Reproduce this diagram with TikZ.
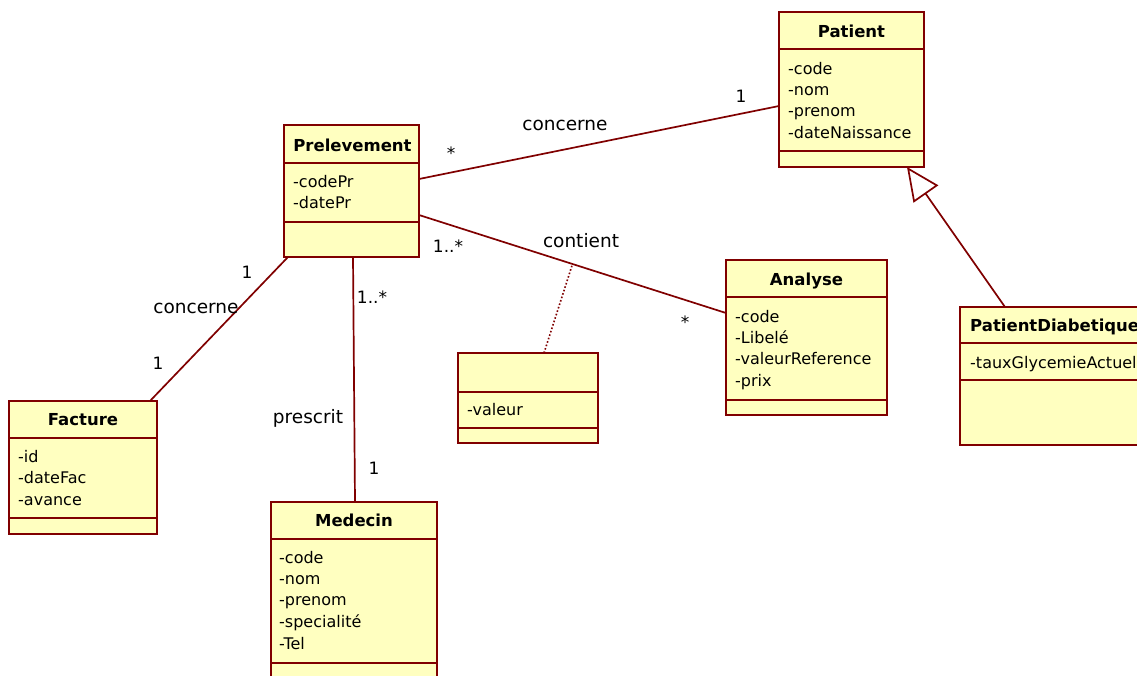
\documentclass[tikz,border=0pt]{standalone}
\usepackage{fontspec}
\setmainfont{DejaVu Sans}
\usetikzlibrary{arrows.meta}
\definecolor{umlred}{RGB}{128,0,0}
\definecolor{umlfill}{RGB}{255,255,192}
\tikzset{
 cls/.style={draw=umlred, fill=umlfill, line width=1.9pt, rectangle, inner sep=0pt, outer sep=0pt, anchor=north west},
 sep/.style={draw=umlred, line width=1.9pt},
 ttl/.style={font=\fontsize{16.5}{19}\selectfont\bfseries, anchor=base, inner sep=0pt},
 attr/.style={font=\fontsize{16}{19}\selectfont, anchor=base west, inner sep=0pt},
 assoc/.style={draw=umlred, line width=1.7pt},
 dep/.style={draw=umlred, line width=1.6pt, dotted},
 lbl/.style={font=\fontsize{18.5}{22}\selectfont, inner sep=0pt},
 mult/.style={font=\fontsize{17}{20}\selectfont, inner sep=0pt},
}
\begin{document}
\begin{tikzpicture}[x=1pt,y=-1pt]
\useasboundingbox (0,0) rectangle (1137,675);
\fill[white] (0,0) rectangle (1137,675);
\clip (0,0) rectangle (1137,675);

% ---------- Patient
\node[cls, minimum width=145pt, minimum height=155pt] (patient) at (779,12) {};
\draw[sep] ([yshift=-37pt]patient.north west) -- ([yshift=-37pt]patient.north east);
\draw[sep] ([yshift=-139pt]patient.north west) -- ([yshift=-139pt]patient.north east);
\node[ttl] (patientT) at (851.5,37) {Patient};
\node[attr] (patientA1) at (788,74) {-code};
\node[attr] (patientA2) at (788,95.3) {-nom};
\node[attr] (patientA3) at (788,116.6) {-prenom};
\node[attr] (patientA4) at (788,138) {-dateNaissance};

% ---------- Prelevement
\node[cls, minimum width=135pt, minimum height=132pt] (prel) at (284,125) {};
\draw[sep] ([yshift=-38pt]prel.north west) -- ([yshift=-38pt]prel.north east);
\draw[sep] ([yshift=-97pt]prel.north west) -- ([yshift=-97pt]prel.north east);
\node[ttl] (prelT) at (352.5,151) {Prelevement};
\node[attr] (prelA1) at (293,187) {-codePr};
\node[attr] (prelA2) at (293,208) {-datePr};

% ---------- Analyse
\node[cls, minimum width=161pt, minimum height=155pt] (analyse) at (726,260) {};
\draw[sep] ([yshift=-37pt]analyse.north west) -- ([yshift=-37pt]analyse.north east);
\draw[sep] ([yshift=-140pt]analyse.north west) -- ([yshift=-140pt]analyse.north east);
\node[ttl] (analyseT) at (806.5,285) {Analyse};
\node[attr] (analyseA1) at (735,322) {-code};
\node[attr] (analyseA2) at (735,343.3) {-Libelé};
\node[attr] (analyseA3) at (735,364.6) {-valeurReference};
\node[attr] (analyseA4) at (735,386) {-prix};

% ---------- PatientDiabetique
\node[cls, minimum width=200pt, minimum height=138pt] (diab) at (960,307) {};
\draw[sep] ([yshift=-36pt]diab.north west) -- ([yshift=-36pt]diab.north east);
\draw[sep] ([yshift=-73pt]diab.north west) -- ([yshift=-73pt]diab.north east);
\node[ttl, anchor=base west] (diabT) at (970,331) {PatientDiabetique};
\node[attr] (diabA1) at (970,368) {-tauxGlycemieActuel};

% ---------- Facture
\node[cls, minimum width=148pt, minimum height=133pt] (facture) at (9,401) {};
\draw[sep] ([yshift=-37pt]facture.north west) -- ([yshift=-37pt]facture.north east);
\draw[sep] ([yshift=-117pt]facture.north west) -- ([yshift=-117pt]facture.north east);
\node[ttl] (factureT) at (83,425) {Facture};
\node[attr] (factureA1) at (18,462) {-id};
\node[attr] (factureA2) at (18,483.5) {-dateFac};
\node[attr] (factureA3) at (18,505) {-avance};

% ---------- Medecin
\node[cls, minimum width=166pt, minimum height=200pt] (medecin) at (271,502) {};
\draw[sep] ([yshift=-37pt]medecin.north west) -- ([yshift=-37pt]medecin.north east);
\draw[sep] ([yshift=-161pt]medecin.north west) -- ([yshift=-161pt]medecin.north east);
\node[ttl] (medecinT) at (354,526) {Medecin};
\node[attr] (medecinA1) at (279,563) {-code};
\node[attr] (medecinA2) at (279,584.3) {-nom};
\node[attr] (medecinA3) at (279,605.6) {-prenom};
\node[attr] (medecinA4) at (279,627) {-specialité};
\node[attr] (medecinA5) at (279,649) {-Tel};

% ---------- association class (valeur)
\node[cls, minimum width=140pt, minimum height=90pt] (valeur) at (458,353) {};
\draw[sep] ([yshift=-39pt]valeur.north west) -- ([yshift=-39pt]valeur.north east);
\draw[sep] ([yshift=-75pt]valeur.north west) -- ([yshift=-75pt]valeur.north east);
\node[attr] (valeurA1) at (467,415) {-valeur};

% ---------- connectors
\draw[assoc] ([yshift=12pt]prel.east) -- ([yshift=-16.5pt]patient.west);
\draw[assoc] ([yshift=-24pt]prel.east) -- coordinate[pos=0.5] (contMid) ([yshift=24.5pt]analyse.west);
\draw[dep] ([xshift=16pt]valeur.north) -- (contMid);
\draw[assoc] ([xshift=4pt]prel.south west) -- ([xshift=-7pt]facture.north east);
\draw[assoc] ([xshift=1.5pt]prel.south) -- ([xshift=1pt]medecin.north);
\draw[assoc, -{Triangle[open, length=33pt, width=30pt, fill=white]}] ([xshift=-55pt]diab.north) -- ([xshift=-17pt]patient.south east);

% ---------- labels
\node[lbl] (l1) at (565,125) {concerne};
\node[mult] (m1) at (451,153) {*};
\node[mult] (m2) at (741,96) {1};
\node[lbl] (l2) at (581,241) {contient};
\node[mult] (m3) at (448,246) {1..*};
\node[mult] (m4) at (685,322) {*};
\node[lbl] (l3) at (196,308) {concerne};
\node[mult] (m5) at (247,272) {1};
\node[mult] (m6) at (158,363) {1};
\node[lbl] (l4) at (308,418) {prescrit};
\node[mult] (m7) at (372,297) {1..*};
\node[mult] (m8) at (374,468) {1};
\end{tikzpicture}
\end{document}
